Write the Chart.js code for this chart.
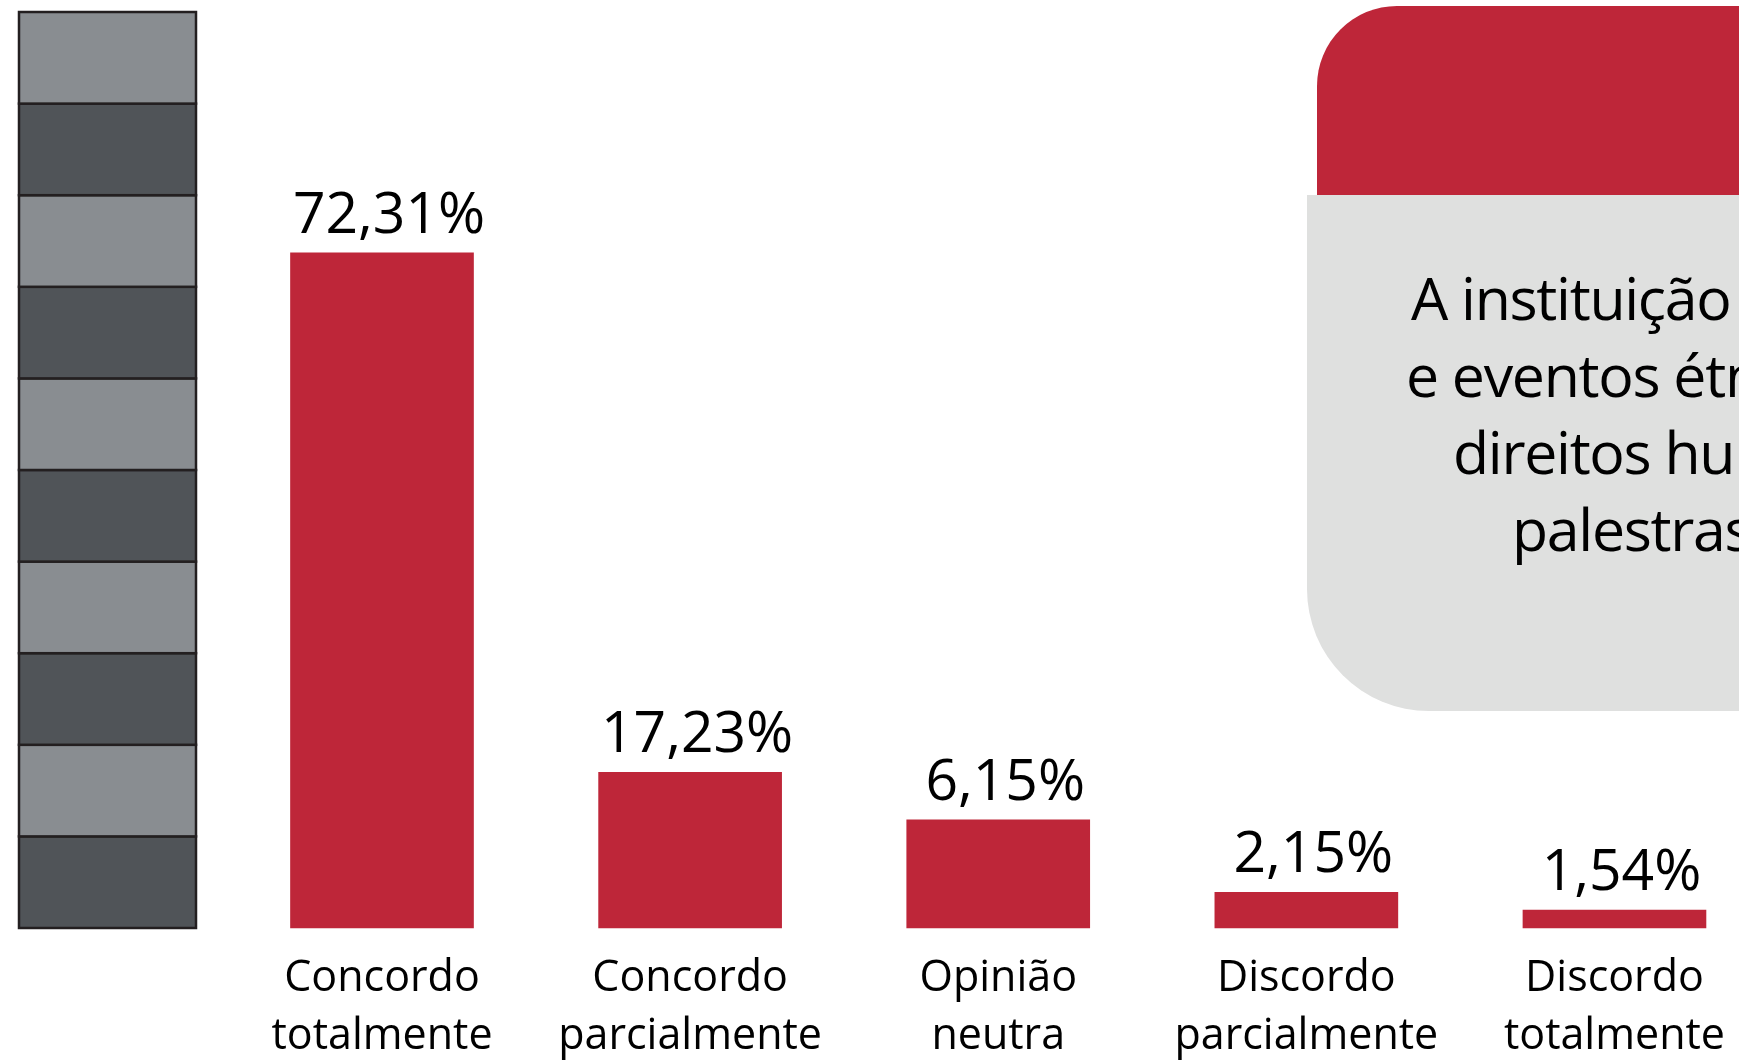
<!DOCTYPE html>
<html>
	<head>
		<meta charset="UTF-8">
		<title></title>
		<style type="text/css">
			body{
				margin: 0;
				background: #ffffff;
			}
			#wrap{
				width: 1739px;
				height: 1061px;
			}
		</style>
	</head>
	<body>
		<div id="wrap">
			<canvas id="myChart" width="1739" height="1061"></canvas>
		</div>
	</body>
	<script src="https://cdn.jsdelivr.net/npm/chart.js@4.4.0/dist/chart.umd.min.js"></script>
	<script>
		// categorias (duas linhas cada)
		var categories = [
			['Concordo', 'totalmente'],
			['Concordo', 'parcialmente'],
			['Opinião', 'neutra'],
			['Discordo', 'parcialmente'],
			['Discordo', 'totalmente']
		];
		// rótulos impressos sobre as barras
		var shareLabels = ['72,31%', '17,23%', '6,15%', '2,15%', '1,54%'];
		// altura desenhada de cada barra, lida contra a régua 0-100 da esquerda
		var barHeights = [73.7, 17.0, 11.8, 3.9, 1.95];
		// faixas da régua
		var gaugeSteps = [0, 10, 20, 30, 40, 50, 60, 70, 80, 90, 100];
		// texto da caixa (cortado na borda direita)
		var boxLines = [
			'A instituição promove ações',
			'e eventos étnico-raciais e de',
			'direitos humanos, como',
			'palestras e debates?'
		];

		var RED = '#be2639';
		var FONT = "'Open Sans', 'Noto Sans', sans-serif";

		// caixa do enunciado + régua listrada
		var decorPlugin = {
			id: 'decor',
			beforeDraw: function(chart){
				var ctx = chart.ctx;
				var y = chart.scales.y;
				ctx.save();
				ctx.fillStyle = '#ffffff';
				ctx.fillRect(0, 0, chart.width, chart.height);

				// caixa vermelha
				ctx.fillStyle = RED;
				ctx.beginPath();
				ctx.roundRect(1317, 6, 600, 260, [80, 0, 0, 0]);
				ctx.fill();
				// caixa cinza
				ctx.fillStyle = '#dfe0df';
				ctx.beginPath();
				ctx.roundRect(1307, 195, 600, 516, [0, 0, 0, 122]);
				ctx.fill();

				ctx.fillStyle = '#000000';
				ctx.font = '59px ' + FONT;
				ctx.letterSpacing = '-1.3px';
				ctx.textBaseline = 'alphabetic';
				ctx.textAlign = 'left';
				var starts = [1411, 1406, 1453, 1512];
				boxLines.forEach(function(t, i){
					ctx.fillText(t, starts[i], 320 + i * 77);
				});
				ctx.letterSpacing = '0px';

				// régua
				for(var i = 0; i < gaugeSteps.length - 1; i++){
					var top = y.getPixelForValue(gaugeSteps[i + 1]);
					var bot = y.getPixelForValue(gaugeSteps[i]);
					ctx.fillStyle = (i % 2 === 0) ? '#505458' : '#898d91';
					ctx.fillRect(19, top, 177, bot - top);
					ctx.strokeStyle = '#231f20';
					ctx.lineWidth = 2.5;
					ctx.strokeRect(19, top, 177, bot - top);
				}
				ctx.restore();
			},
			afterDatasetsDraw: function(chart){
				var ctx = chart.ctx;
				var meta = chart.getDatasetMeta(0);
				ctx.save();
				ctx.fillStyle = '#000000';
				ctx.font = '57px ' + FONT;
				ctx.textAlign = 'center';
				ctx.textBaseline = 'alphabetic';
				meta.data.forEach(function(bar, i){
					ctx.fillText(shareLabels[i], bar.x + 7, bar.y - 20);
				});
				ctx.restore();
			}
		};

		var ctx = document.getElementById('myChart').getContext('2d');
		var chart = new Chart(ctx, {
			type: 'bar',
			data: {
				labels: categories,
				datasets: [
					{
						data: barHeights,
						backgroundColor: RED,
						borderWidth: 0,
						barThickness: 183,
						clip: false
					}
				]
			},
			options: {
				responsive: false,
				animation: false,
				devicePixelRatio: 1,
				layout: {
					padding: {top: 12, left: 382, right: 113, bottom: 0}
				},
				plugins: {
					legend: {display: false},
					tooltip: {enabled: false}
				},
				scales: {
					x: {
						offset: false,
						grid: {display: false},
						border: {display: false},
						ticks: {
							autoSkip: false,
							maxRotation: 0,
							padding: 14,
							color: '#000000',
							font: {family: FONT, size: 43, lineHeight: 1.35}
						},
						afterFit: function(scale){
							scale.height = 133;
						}
					},
					y: {
						display: false,
						min: 0,
						max: 100
					}
				}
			},
			plugins: [decorPlugin]
		});
	</script>
</html>
